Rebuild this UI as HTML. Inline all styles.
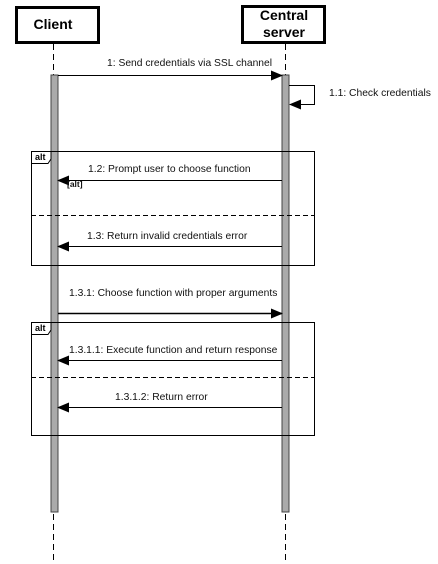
<!DOCTYPE html>
<html><head><meta charset="utf-8"><style>
html,body{margin:0;padding:0;background:#fff;width:438px;height:564px;overflow:hidden}
</style></head><body>
<svg width="438" height="564" xmlns="http://www.w3.org/2000/svg" font-family="Liberation Sans, Arial, sans-serif">
<defs>
<marker id="a" markerWidth="12" markerHeight="10" refX="11" refY="5" orient="auto" markerUnits="userSpaceOnUse">
<path d="M0,0 L12,5 L0,10 Z" fill="#000"/></marker>
</defs>
<rect x="16.5" y="7.5" width="82" height="35" fill="#fff" stroke="#000" stroke-width="3"/>
<text x="53" y="29" font-size="14" font-weight="bold" text-anchor="middle">Client</text>
<rect x="242.5" y="6.5" width="82" height="36" fill="#fff" stroke="#000" stroke-width="3"/>
<text x="284" y="20" font-size="14" font-weight="bold" text-anchor="middle">Central</text>
<text x="284" y="37" font-size="14" font-weight="bold" text-anchor="middle">server</text>
<line x1="53.5" y1="44" x2="53.5" y2="560" stroke="#000" stroke-dasharray="6,4"/>
<line x1="285.5" y1="44" x2="285.5" y2="560" stroke="#000" stroke-dasharray="6,4"/>
<rect x="51" y="75" width="7" height="437" fill="#aaa" stroke="#444" stroke-width="1"/>
<rect x="282" y="75" width="7" height="437" fill="#aaa" stroke="#444" stroke-width="1"/>
<g fill="none" stroke="#000">
<rect x="31.5" y="151.5" width="283" height="114"/>
<line x1="31" y1="215.5" x2="315" y2="215.5" stroke-dasharray="5,3"/>
<path d="M31.5,163.5 H48 L51,159 V151.5"/>
<rect x="31.5" y="322.5" width="283" height="113"/>
<line x1="31" y1="377.5" x2="315" y2="377.5" stroke-dasharray="5,3"/>
<path d="M31.5,334.5 H48 L51,330 V322.5"/>
</g>
<g font-size="9" font-weight="bold"><text x="35" y="160">alt</text><text x="35" y="331">alt</text></g>
<g stroke="#000" fill="none">
<line x1="58" y1="75.5" x2="282" y2="75.5" marker-end="url(#a)"/>
<path d="M289,85.5 H314.5 V104.5 H290" marker-end="url(#a)"/>
<line x1="282" y1="180.5" x2="58" y2="180.5" marker-end="url(#a)"/>
<line x1="282" y1="246.5" x2="58" y2="246.5" marker-end="url(#a)"/>
<line x1="58" y1="313.5" x2="282" y2="313.5" marker-end="url(#a)" stroke-width="1.5"/>
<line x1="282" y1="360.5" x2="58" y2="360.5" marker-end="url(#a)"/>
<line x1="282" y1="407.5" x2="58" y2="407.5" marker-end="url(#a)"/>
</g>
<g font-size="10.3" fill="#111">
<text x="107" y="66">1: Send credentials via SSL channel</text>
<text x="329" y="96">1.1: Check credentials</text>
<text x="88" y="172">1.2: Prompt user to choose function</text>
<text x="67" y="187" font-size="8.5" font-weight="bold">[alt]</text>
<text x="87" y="239">1.3: Return invalid credentials error</text>
<text x="69" y="296">1.3.1: Choose function with proper arguments</text>
<text x="69" y="353">1.3.1.1: Execute function and return response</text>
<text x="115" y="400">1.3.1.2: Return error</text>
</g>
</svg>
</body></html>
